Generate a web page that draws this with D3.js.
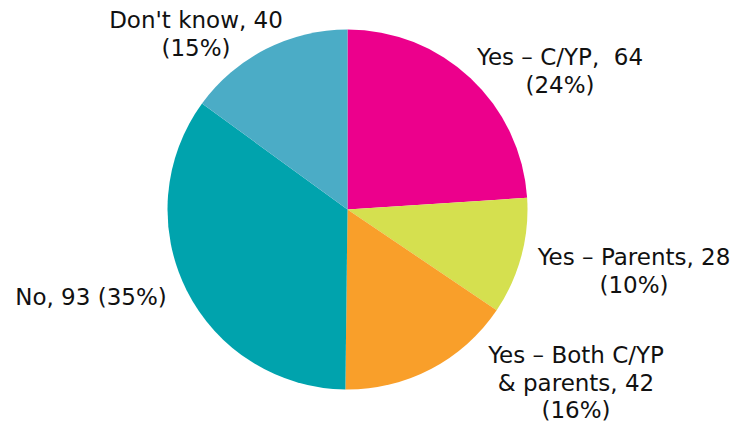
<!DOCTYPE html>
<html>
<head>
<meta charset="utf-8">
<script src="https://cdn.jsdelivr.net/npm/d3@7"></script>
<style>
  html, body { margin: 0; padding: 0; background: #ffffff; }
  svg { display: block; }
  text { font-family: "DejaVu Sans", Verdana, sans-serif; fill: #111111; white-space: pre; }
</style>
</head>
<body>
<svg id="chart" width="735" height="428"></svg>
<script>
// Responses, clockwise from 12 o'clock
const categories = ["Yes \u2013 C/YP,  ", "Yes \u2013 Parents, ", "Yes \u2013 Both C/YP\n& parents, ", "No, ", "Don't know, "];
const values = [64, 28, 42, 93, 40];
const colors = ["#EC008C", "#D5E04F", "#F99F2A", "#00A3AD", "#4BACC6"];

// Label layout: centre x, first baseline y, and whether the percentage sits on its own line
const labelLayout = [
  { x: 560, y: 65, pctOwnLine: true },
  { x: 634, y: 265, pctOwnLine: true },
  { x: 576, y: 363, pctOwnLine: true },
  { x: 91, y: 305, pctOwnLine: false },
  { x: 196, y: 28, pctOwnLine: true }
];

const width = 735, height = 428;
const cx = 347.5, cy = 209.5, radius = 180;
const lineHeight = 27.5;

const svg = d3.select("#chart");
const total = d3.sum(values);

const pie = d3.pie().sort(null).value(d => d)(values);
const arc = d3.arc().innerRadius(0).outerRadius(radius);

const g = svg.append("g").attr("transform", `translate(${cx},${cy})`);
g.selectAll("path")
  .data(pie)
  .join("path")
  .attr("d", arc)
  .attr("fill", (d, i) => colors[i]);

// Data labels: category, value and share of total
const labels = svg.append("g").attr("font-size", 23).attr("text-anchor", "middle");
categories.forEach((cat, i) => {
  const pct = Math.round(values[i] / total * 100);
  const lines = cat.split("\n");
  lines[lines.length - 1] += values[i];
  if (labelLayout[i].pctOwnLine) lines.push(`(${pct}%)`);
  else lines[lines.length - 1] += ` (${pct}%)`;
  const t = labels.append("text")
    .attr("x", labelLayout[i].x)
    .attr("y", labelLayout[i].y);
  lines.forEach((ln, j) => {
    t.append("tspan")
      .attr("x", labelLayout[i].x)
      .attr("y", labelLayout[i].y + j * lineHeight)
      .text(ln);
  });
});
</script>
</body>
</html>
